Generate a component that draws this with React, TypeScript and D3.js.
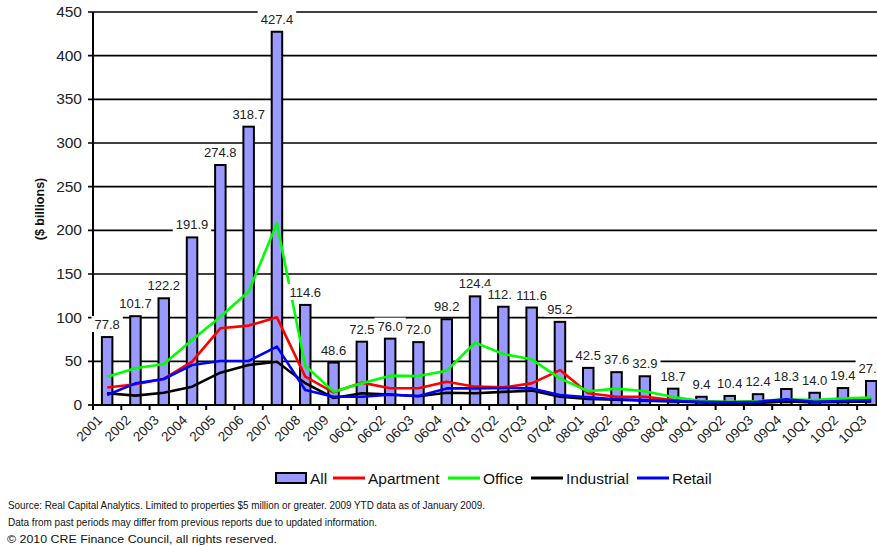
import React from "react";
import * as d3 from "d3";

const categories = ["2001","2002","2003","2004","2005","2006","2007","2008","2009","06Q1","06Q2","06Q3","06Q4","07Q1","07Q2","07Q3","07Q4","08Q1","08Q2","08Q3","08Q4","09Q1","09Q2","09Q3","09Q4","10Q1","10Q2","10Q3"];
const allValues = [77.8,101.7,122.2,191.9,274.8,318.7,427.4,114.6,48.6,72.5,76.0,72.0,98.2,124.4,112.5,111.6,95.2,42.5,37.6,32.9,18.7,9.4,10.4,12.4,18.3,14.0,19.4,27.5];
const apartment = [20,23.7,29.8,49.6,87.8,90.9,100.4,32.5,14.5,25.6,19.1,19.1,26.7,21,20.2,24.8,40,13.4,9.5,9.5,5.7,3.8,3,3,4,4.5,6,6.5];
const office = [32.4,42,47,74.4,101,130,208,45,15.3,24.8,33.6,33.2,39.3,71.4,58.4,52.3,30.5,15.7,18.7,15.7,9.2,4.6,3.8,4.5,6.5,5.7,7.6,8.4];
const industrial = [13.4,10.7,14,21,37,45.8,49.6,25,8,13.5,12,10,14,13.5,15,16.5,9.5,7,6,5,4,3,2.5,2.5,4,3,3.5,4];
const retail = [11.5,24.8,29.8,45.8,50.4,50.4,66.8,17.2,9.5,9.5,11.8,10.3,19,19,19.5,19,11.5,8.8,6.5,5.7,4.6,3.8,3.1,3.8,6.5,3.8,4.6,5.7];
const yTicks = [0,50,100,150,200,250,300,350,400,450];
const seriesNames = ["Apartment","Office","Industrial","Retail"];
const seriesColors = ["#FF0000","#00FF00","#000000","#0000FF"];
const legendNames = ["All","Apartment","Office","Industrial","Retail"];
const footerLines = [
  "Source: Real Capital Analytics. Limited to properties $5 million or greater. 2009 YTD data as of January 2009.",
  "Data from past periods may differ from previous reports due to updated information.",
  "\u00A9 2010 CRE Finance Council, all rights reserved.",
];

const W = 877, H = 546;
const FONT = "'Liberation Sans', Arial, Helvetica, sans-serif";
const BAR_FILL = "#9999FF";

function textW(s: string, fs: number) {
  let w = 0;
  for (const c of s) w += c === "." ? 0.278 : 0.556;
  return w * fs;
}

export default function App() {
  const left = 93, bottom = 405, top = 12;
  const band = 28.3;
  const x = d3.scaleBand<string>().domain(categories).range([left, left + band * categories.length]).padding(0);
  const y = d3.scaleLinear().domain([0, 450]).range([bottom, top]);
  const cx = (i: number) => (x(categories[i]) as number) + x.bandwidth() / 2;
  const barW = 10.5;
  const series = [apartment, office, industrial, retail];
  const line = d3.line<number>().x((_, i) => cx(i)).y((v) => y(v)).curve(d3.curveLinear);
  const labelFs = 13;
  const legendX = [276, 333, 448, 531, 637];

  return (
    <svg width={W} height={H} style={{ position: "absolute", left: 0, top: 0, background: "#fff" }} fontFamily={FONT}>
      <rect width={W} height={H} fill="#fff" />
      {yTicks.filter((t) => t > 0).map((t) => (
        <line key={"g" + t} x1={left - 5} x2={W} y1={y(t)} y2={y(t)} stroke="#000" strokeWidth={1.7} />
      ))}
      {yTicks.map((t) => (
        <text key={"yt" + t} x={82} y={y(t) + 5} textAnchor="end" fontSize={15.5} fill="#222">{t}</text>
      ))}
      <line x1={left - 5} x2={left} y1={bottom} y2={bottom} stroke="#000" strokeWidth={1.7} />
      <text transform="translate(44,209) rotate(-90)" textAnchor="middle" fontSize={12.5} fontWeight="bold" fill="#111">($ billions)</text>
      {allValues.map((v, i) => (
        <rect key={"b" + i} x={cx(i) - barW / 2} y={y(v)} width={barW} height={bottom - y(v)} fill={BAR_FILL} stroke="#000" strokeWidth={2} />
      ))}
      <line x1={left} x2={left} y1={top} y2={bottom} stroke="#000" strokeWidth={2} />
      <line x1={left} x2={W} y1={bottom} y2={bottom} stroke="#000" strokeWidth={2} />
      {d3.range(categories.length + 1).map((k) => {
        const xx = left + band * k;
        return <line key={"xt" + k} x1={xx} x2={xx} y1={bottom} y2={bottom + 5} stroke="#000" strokeWidth={2} />;
      })}
      {categories.map((c, i) => (
        <text key={"xl" + c} transform={`translate(${cx(i) - 4},421) rotate(-45)`} textAnchor="end" fontSize={13.5} fill="#222">{c}</text>
      ))}
      {series.map((s, k) => (
        <path key={"l" + k} d={line(s) || ""} fill="none" stroke={seriesColors[k]} strokeWidth={2.6} strokeLinejoin="round" />
      ))}
      {allValues.map((v, i) => {
        const s = v.toFixed(1);
        const w = textW(s, labelFs);
        const base = y(v) - 8;
        return (
          <g key={"dl" + i}>
            <rect x={cx(i) - w / 2 - 3} y={base - 13} width={w + 6} height={16} fill="#fff" />
            <text x={cx(i)} y={base} textAnchor="middle" fontSize={labelFs} fill="#222">{s}</text>
          </g>
        );
      })}
      <rect x={legendX[0]} y={473} width={30} height={10} fill={BAR_FILL} stroke="#000" strokeWidth={2} />
      <text x={legendX[0] + 34} y={483.5} fontSize={15.5} fill="#111">{legendNames[0]}</text>
      {seriesNames.map((n, k) => (
        <g key={"lg" + n}>
          <line x1={legendX[k + 1]} x2={legendX[k + 1] + 32} y1={478} y2={478} stroke={seriesColors[k]} strokeWidth={3} />
          <text x={legendX[k + 1] + 35} y={483.5} fontSize={15.5} fill="#111">{legendNames[k + 1]}</text>
        </g>
      ))}
      <text x={8} y={509} fontSize={11.5} textLength={477} lengthAdjust="spacingAndGlyphs" fill="#111">{footerLines[0]}</text>
      <text x={8} y={526} fontSize={11.5} textLength={369} lengthAdjust="spacingAndGlyphs" fill="#111">{footerLines[1]}</text>
      <text x={7} y={543} fontSize={10} textLength={270} lengthAdjust="spacingAndGlyphs" fill="#111">{footerLines[2]}</text>
    </svg>
  );
}
